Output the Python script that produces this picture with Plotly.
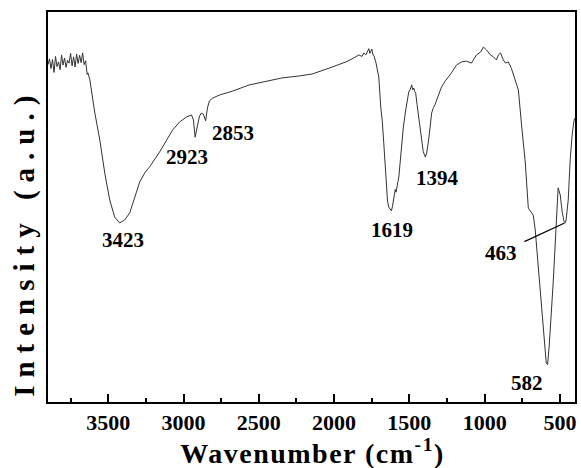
import numpy as np
import plotly.graph_objects as go

# ---- data ----
wavenumber = [
    3900, 3890, 3880, 3870, 3860, 3850, 3840, 3830, 3820, 3810, 3800, 3790, 3780,
    3770, 3760, 3750, 3740, 3730, 3720, 3710, 3700, 3690, 3680, 3670, 3660, 3650,
    3640, 3635, 3622, 3589, 3556, 3523, 3490, 3457, 3424, 3390, 3357, 3324, 3291,
    3258, 3225, 3159, 3112, 3073, 3026, 2980, 2947, 2934, 2923, 2907, 2894, 2881,
    2868, 2853, 2841, 2828, 2808, 2762, 2676, 2563, 2451, 2345, 2232, 2146, 2034,
    1921, 1870, 1835, 1815, 1802, 1789, 1775, 1769, 1762, 1756, 1749, 1742, 1736,
    1723, 1715, 1703, 1690, 1680, 1670, 1657, 1645, 1637, 1619, 1612, 1606, 1600,
    1594, 1588, 1582, 1576, 1570, 1560, 1551, 1540, 1524, 1515, 1504, 1494, 1484,
    1478, 1471, 1464, 1458, 1448, 1438, 1428, 1418, 1408, 1394, 1385, 1372, 1360,
    1352, 1340, 1330, 1319, 1300, 1286, 1260, 1240, 1220, 1187, 1154, 1121, 1088,
    1054, 1028, 1008, 988, 962, 942, 922, 909, 895, 876, 862, 843, 823, 796, 776,
    756, 730, 710, 690, 677, 664, 644, 611, 591, 582, 571, 545, 525, 512, 498, 485,
    472, 463, 459, 445, 432, 419, 406, 400,
]
intensity = [
    86.5, 88.0, 85.5, 87.8, 84.5, 88.6, 86.0, 87.2, 85.2, 89.0, 86.4, 88.2, 85.8,
    87.6, 86.9, 89.4, 86.2, 88.5, 85.9, 89.2, 86.8, 88.9, 87.0, 89.5, 86.5, 87.5,
    84.0, 84.4, 82.6, 74.1, 67.2, 58.7, 51.8, 47.4, 45.9, 46.7, 48.5, 52.6, 56.4,
    58.7, 60.3, 64.1, 67.2, 69.7, 71.8, 73.1, 73.6, 72.3, 67.9, 71.0, 73.3, 74.1,
    73.8, 72.1, 75.4, 77.2, 77.9, 78.7, 79.7, 81.3, 82.3, 83.1, 83.6, 84.1, 85.6,
    87.2, 88.2, 89.0, 88.6, 89.5, 89.0, 90.0, 90.6, 89.4, 90.1, 90.5, 89.0, 88.9,
    87.2, 85.5, 83.3, 75.6, 72.0, 66.4, 56.9, 51.5, 50.0, 49.0, 50.2, 52.0, 52.8,
    54.5, 53.8, 55.6, 56.5, 57.7, 62.0, 66.4, 70.5, 74.9, 77.0, 79.5, 80.2, 81.3,
    80.0, 80.5, 79.6, 79.2, 76.0, 73.1, 69.5, 66.4, 64.2, 62.8, 63.8, 67.2, 71.0,
    74.1, 75.5, 76.2, 77.4, 79.5, 80.8, 82.4, 83.3, 84.4, 86.4, 87.2, 87.4, 86.9,
    89.0, 89.7, 91.0, 90.3, 89.0, 88.5, 87.7, 89.0, 89.5, 87.7, 86.9, 87.2, 85.6,
    82.6, 80.0, 71.5, 61.3, 49.7, 48.7, 47.9, 44.1, 35.1, 18.5, 10.0, 9.6, 14.6,
    30.5, 46.7, 54.9, 53.1, 48.7, 46.2, 46.0, 46.7, 51.8, 62.1, 68.5, 72.3, 72.8,
]

peak_positions = [3423, 2923, 2853, 1619, 1394, 582]
peak_labels = ["3423", "2923", "2853", "1619", "1394", "582"]
arrow_peak = 463
arrow_label = "463"

x_ticks = [3500, 3000, 2500, 2000, 1500, 1000, 500]
x_minor = [3750, 3250, 2750, 2250, 1750, 1250, 750]

# ---- styling ----
FONT = "Liberation Serif"
label_shift = [(3, -17), (-8, -20), (27, -12), (1, -19), (12, -21), (-21, -18)]

wn_asc = np.array(wavenumber[::-1], dtype=float)
it_asc = np.array(intensity[::-1], dtype=float)

fig = go.Figure()
fig.add_trace(go.Scatter(
    x=wavenumber, y=intensity, mode="lines",
    line=dict(color="#333333", width=1), showlegend=False, hoverinfo="skip",
))

lab_font = dict(family=FONT, size=21, color="black", weight="bold")
annotations = []
for pos, lab, (dx, dy) in zip(peak_positions, peak_labels, label_shift):
    yv = float(np.interp(pos, wn_asc, it_asc))
    annotations.append(dict(
        x=pos, y=yv, xref="x", yref="y", text="<b>" + lab + "</b>", showarrow=False,
        xanchor="center", yanchor="middle", xshift=dx, yshift=dy, font=lab_font,
    ))

yv463 = float(np.interp(arrow_peak, wn_asc, it_asc))
annotations.append(dict(
    x=arrow_peak, y=yv463, xref="x", yref="y", text="<b>" + arrow_label + "</b>",
    showarrow=True, arrowhead=0, arrowwidth=1.2, arrowcolor="black",
    ax=-65, ay=30, startstandoff=7, standoff=1, font=lab_font,
))

annotations.append(dict(
    x=0.501, y=-0.128, xref="paper", yref="paper",
    text="<b>Wavenumber (cm<sup>-1</sup>)</b>", showarrow=False,
    xanchor="center", yanchor="middle",
    font=dict(family=FONT, size=28, color="black", weight="bold"),
))
annotations.append(dict(
    x=-0.046, y=0.41, xref="paper", yref="paper",
    text="<b>Intensity (a.u.)</b>", showarrow=False, textangle=-90,
    xanchor="center", yanchor="middle",
    font=dict(family=FONT, size=29, color="black", weight="bold"),
))

fig.update_layout(
    width=581, height=468,
    margin=dict(l=48, r=4, t=12, b=66),
    paper_bgcolor="white", plot_bgcolor="white",
    annotations=annotations,
    xaxis=dict(
        range=[3900, 400], autorange=False,
        tickmode="array", tickvals=x_ticks,
        ticktext=["<b>%d</b>" % v for v in x_ticks],
        ticks="inside", ticklen=8, tickwidth=1.5, tickcolor="black",
        minor=dict(tickmode="array", tickvals=x_minor, ticks="inside",
                   ticklen=4, tickwidth=1.5, tickcolor="black"),
        showline=True, linecolor="black", linewidth=1.5, mirror=True,
        showgrid=False, zeroline=False,
        tickfont=dict(family=FONT, size=22, color="black", weight="bold"),
    ),
    yaxis=dict(
        range=[0, 100], autorange=False,
        showticklabels=False, ticks="",
        showline=True, linecolor="black", linewidth=1.5, mirror=True,
        showgrid=False, zeroline=False,
    ),
)

post = """
document.body.style.margin = '0';
document.body.style.overflow = 'hidden';
document.querySelectorAll('.annotation-text').forEach(function(t){
  var s = t.textContent;
  if (s.indexOf('Intensity') === 0) { t.style.letterSpacing = '8px'; }
  if (s.indexOf('Wavenumber') === 0) { t.style.letterSpacing = '1.5px'; }
});
"""
fig.write_html("out.html", post_script=post, config={"displayModeBar": False})
